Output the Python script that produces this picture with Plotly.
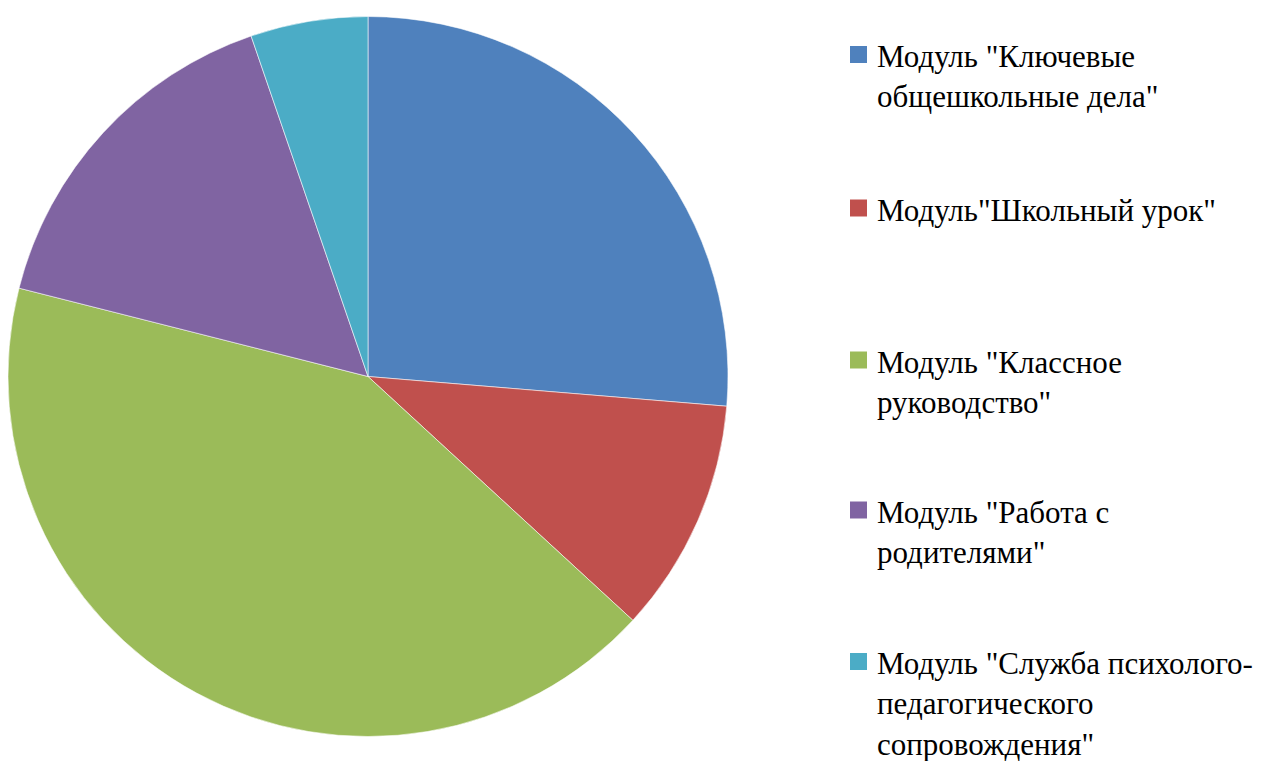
import plotly.graph_objects as go

# ---- data ----
labels = [
    'Модуль "Ключевые<br>общешкольные дела"',
    'Модуль"Школьный урок"',
    'Модуль "Классное<br>руководство"',
    'Модуль "Работа с<br>родителями"',
    'Модуль "Служба психолого-<br>педагогического<br>сопровождения"',
]
values = [10, 4, 16, 6, 2]
colors = ["#4F81BD", "#C0504D", "#9BBB59", "#8064A2", "#4BACC6"]

# page body has an 8px margin; figure coordinates = screen - 8
OFF = 8
W, H = 1268 - OFF, 761 - OFF

# ---- layout constants (screen pixels) ----
cx, cy, r = 368, 376.5, 360
baselines = [66, 219.5, 371.5, 521.5, 673]
font_size = 31
sq_x0, sq_x1 = 850, 867
text_x = 876
FONT = "Liberation Serif, DejaVu Serif, Noto Serif, serif"


def px(x):
    return min(max((x - OFF) / W, 0), 1)


def py(y):
    return min(max(1 - (y - OFF) / H, 0), 1)


fig = go.Figure()
fig.add_trace(go.Pie(
    labels=[l.replace("<br>", " ") for l in labels],
    values=values,
    sort=False,
    direction="clockwise",
    rotation=0,
    textinfo="none",
    marker=dict(colors=colors, line=dict(color="rgba(255,255,255,0.7)", width=0.8)),
    domain=dict(x=[px(cx - r), px(cx + r)], y=[py(cy + r), py(cy - r)]),
    showlegend=False,
))

shapes = []
annotations = []
for lab, col, bl in zip(labels, colors, baselines):
    shapes.append(dict(
        type="rect", xref="paper", yref="paper",
        x0=px(sq_x0), x1=px(sq_x1),
        y0=py(bl - 3), y1=py(bl - 20),
        fillcolor=col, line=dict(width=0),
    ))
    top = bl - 0.891 * font_size
    annotations.append(dict(
        xref="paper", yref="paper", x=px(text_x), y=py(top),
        xanchor="left", yanchor="top", align="left",
        text=lab, showarrow=False, borderpad=0,
        font=dict(family=FONT, size=font_size, color="#000000"),
    ))

fig.update_layout(
    width=W, height=H,
    font=dict(family=FONT),
    margin=dict(l=0, r=0, t=0, b=0),
    paper_bgcolor="white", plot_bgcolor="white",
    shapes=shapes, annotations=annotations,
    showlegend=False,
)

fig.write_html("out.html")
